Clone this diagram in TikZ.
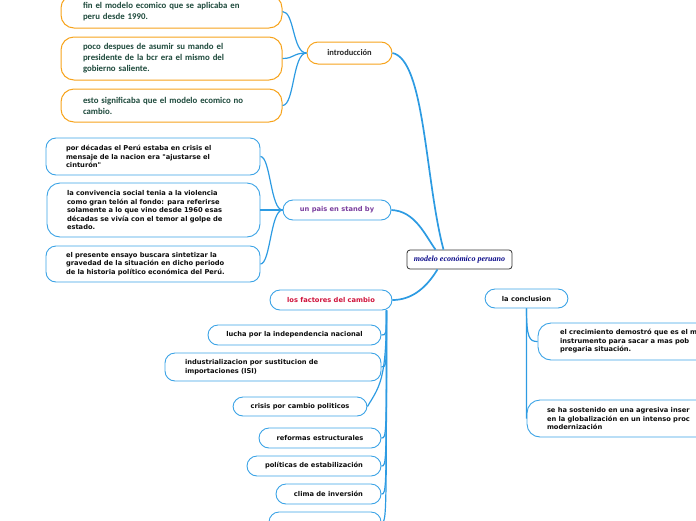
\documentclass[tikz,border=0pt]{standalone}
\usepackage{fontspec}
\usetikzlibrary{positioning}
\newfontfamily\versans{DejaVu Sans}
\newfontfamily\calsans{Carlito}
\newfontfamily\titserif{Liberation Serif}
\definecolor{mapblue}{HTML}{3BA3E6}
\definecolor{linkblue}{HTML}{2D9BE2}
\definecolor{maporange}{HTML}{F7A41D}
\definecolor{leafgreen}{HTML}{1E4A3C}
\definecolor{inkdark}{HTML}{0E0E0E}
\definecolor{standpurple}{HTML}{7B3F9E}
\definecolor{causered}{HTML}{D0143C}
\definecolor{titlenavy}{HTML}{0B0B8A}
\tikzset{
  bluebox/.style={draw=mapblue, line width=0.9pt, fill=white, rounded corners=10pt, text=inkdark, inner ysep=0pt, font=\versans\bfseries\fontsize{6.7}{8.5}\selectfont},
  orangebox/.style={draw=maporange, line width=1pt, fill=white, rounded corners=13pt, text=leafgreen, inner ysep=0pt, font=\calsans\bfseries\fontsize{8.8}{11}\selectfont},
  titlebox/.style={draw=inkdark!85, line width=0.8pt, fill=white, rounded corners=3pt, text=titlenavy, inner sep=0pt, font=\titserif\bfseries\itshape\fontsize{8}{9}\selectfont},
  link/.style={draw=linkblue, line width=1.2pt},
  trunk/.style={draw=linkblue, line width=1.7pt}
}

\begin{document}
\begin{tikzpicture}[x=1pt,y=-1pt]
\useasboundingbox (0,0) rectangle (696,520);
\clip (0,0) rectangle (696,520);

\node[titlebox, minimum width=105pt, minimum height=19pt] (central) at (459.5,259.5) {modelo económico peruano};

\node[orangebox, rounded corners=11pt, minimum width=85pt, minimum height=22pt, inner sep=0pt, text=inkdark!90, font=\calsans\bfseries\fontsize{8.5}{10}\selectfont] (intro) at (349.5,53) {introducción};
\node[orangebox, align=left, text width=177pt, inner xsep=22pt, minimum height=33pt] (ofin) at (171.5,11.5) {fin el modelo ecomico que se aplicaba en\\peru desde 1990.};
\node[orangebox, align=left, text width=177pt, inner xsep=22pt, minimum height=43pt] (opoco) at (171.5,58.5) {poco despues de asumir su mando el\\presidente de la bcr era el mismo del\\gobierno saliente.};
\node[orangebox, align=left, text width=177pt, inner xsep=22pt, minimum height=33pt] (oesto) at (171.5,105.5) {esto significaba que el modelo ecomico no\\cambio.};

\node[bluebox, minimum width=108pt, minimum height=20pt, inner sep=0pt, text=standpurple] (standby) at (337,210) {un pais en stand by};
\node[bluebox, align=left, text width=174pt, inner xsep=20pt, minimum height=37pt] (bdecadas) at (153,156.5) {por décadas el Perú estaba en crisis el\\mensaje de la nacion era "ajustarse el\\cinturón"};
\node[bluebox, align=left, text width=173pt, inner xsep=20pt, minimum height=54pt, rounded corners=13pt] (bconviv) at (153.5,210) {la convivencia social tenia a la violencia\\como gran telón al fondo: para referirse\\solamente a lo que vino desde 1960 esas\\décadas se vivía con el temor al golpe de\\estado.};
\node[bluebox, align=left, text width=174pt, inner xsep=20pt, minimum height=36pt] (bensayo) at (153,264) {el presente ensayo buscara sintetizar la\\gravedad de la situación en dicho periodo\\de la historia político económica del Perú.};

\node[bluebox, minimum width=122pt, minimum height=20pt, inner sep=0pt, text=causered] (factores) at (331,300) {los factores del cambio};
\node[bluebox, minimum width=173pt, minimum height=20pt, inner sep=0pt] (flucha) at (294.5,335) {lucha por la independencia nacional};
\node[bluebox, align=left, text width=176pt, inner xsep=20pt, minimum height=28pt] (fisi) at (273,367) {industrializacion por sustitucion de\\importaciones (ISI)};
\node[bluebox, minimum width=134pt, minimum height=19pt, inner sep=0pt] (fcrisis) at (300,406.5) {crisis por cambio politicos};
\node[bluebox, minimum width=122pt, minimum height=20pt, inner sep=0pt] (freformas) at (320,438) {reformas estructurales};
\node[bluebox, minimum width=134pt, minimum height=20pt, inner sep=0pt] (fpoliticas) at (314,466) {políticas de estabilización};
\node[bluebox, minimum width=105pt, minimum height=20pt, inner sep=0pt] (fclima) at (328.5,494) {clima de inversión};
\node[bluebox, minimum width=112pt, minimum height=20pt, inner sep=0pt] (fmas) at (325,522) {};

\node[bluebox, minimum width=83pt, minimum height=19pt, inner sep=0pt] (conclusion) at (526.5,298.5) {la conclusion};
\node[bluebox, align=left, text width=218pt, inner xsep=22pt, minimum height=37pt, rounded corners=13pt] (ccrec) at (669,341.5) {el crecimiento demostró que es el m\\instrumento para sacar a mas pob\\pregaria situación.};
\node[bluebox, align=left, text width=230pt, inner xsep=20pt, minimum height=37pt, rounded corners=13pt] (cglobal) at (662,418.5) {se ha sostenido en una agresiva inser\\en la globalización en un intenso proc\\modernización};

\draw[trunk] ([xshift=-16pt]central.north) .. controls (425,180) and (425,60) .. (intro.east);
\draw[trunk] ([xshift=-24pt]central.north) .. controls (425,235) and (415,211) .. (standby.east);
\draw[trunk] ([xshift=-22pt]central.south) .. controls (425,290) and (410,300) .. (factores.east);

\foreach \leaf in {ofin,opoco,oesto}
  \draw[link] (intro.west) .. controls ([xshift=-14pt]intro.west) and ([xshift=12pt]\leaf.east) .. (\leaf.east);
\foreach \leaf in {bdecadas,bconviv,bensayo}
  \draw[link] (standby.west) .. controls ([xshift=-12pt]standby.west) and ([xshift=10pt]\leaf.east) .. (\leaf.east);

\coordinate (ft) at ([xshift=-6pt]factores.south east);
\foreach \leaf in {flucha,fisi,freformas,fpoliticas,fclima,fmas}
  \draw[link] (ft) .. controls (ft |- \leaf.east) .. (\leaf.east);
\draw[link] (ft) .. controls ([yshift=-70pt]ft) and ([xshift=12pt,yshift=20pt]fcrisis.east) .. (fcrisis.east);

\draw[link] (conclusion.south) .. controls ([yshift=-30pt]conclusion.south) and ([xshift=-8pt]ccrec.west) .. (ccrec.west);
\draw[link] (conclusion.south) .. controls (conclusion.south |- cglobal.west) .. (cglobal.west);
\end{tikzpicture}
\end{document}
